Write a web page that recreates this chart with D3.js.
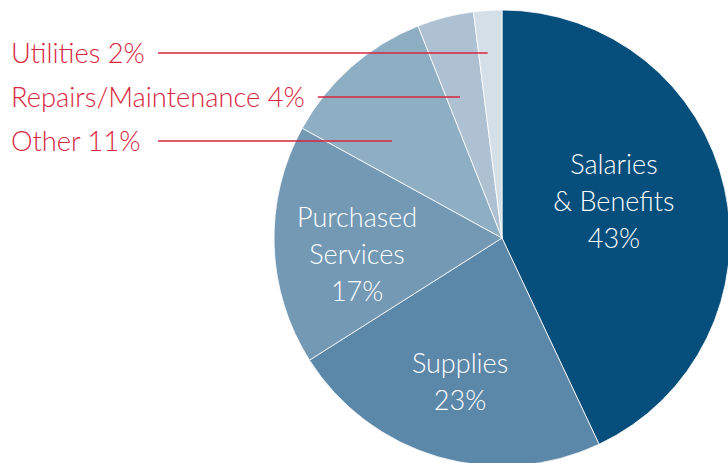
<!DOCTYPE html>
<html>
<head>
<meta charset="utf-8">
<script src="https://cdn.jsdelivr.net/npm/d3@7"></script>
<style>
  body { margin: 0; background: #fff; }
  text { font-family: Lato, "Open Sans", sans-serif; font-weight: 300; }
</style>
</head>
<body>
<div id="chart"></div>
<script>
// Expense categories, clockwise from 12 o'clock
const categories = ["Salaries & Benefits", "Supplies", "Purchased Services", "Other", "Repairs/Maintenance", "Utilities"];
const values = [43, 23, 17, 11, 4, 2];
const colors = ["#064e7b", "#5b87a8", "#7399b5", "#8eaec4", "#adc1d2", "#d4dfe7"];
// labels drawn inside the slices (lines) and outside with leader lines
const insideLabels = [["Salaries", "& Benefits", "43%"], ["Supplies", "23%"], ["Purchased", "Services", "17%"], null, null, null];
const outsideLabels = ["Other 11%", "Repairs/Maintenance 4%", "Utilities 2%"];

const width = 728, height = 463;
const cx = 502, cy = 238, radius = 228;

const svg = d3.select("#chart")
    .append("svg")
    .attr("width", width)
    .attr("height", height);

const g = svg.append("g")
    .attr("transform", `translate(${cx},${cy})`);

const pie = d3.pie().sort(null).value(d => d.value);
const arcs = pie(categories.map((c, i) => ({ name: c, value: values[i], idx: i })));

const arc = d3.arc().innerRadius(0).outerRadius(radius);

// Slices
g.selectAll("path.slice")
    .data(arcs)
    .enter()
    .append("path")
    .attr("class", "slice")
    .attr("d", arc)
    .attr("fill", (d, i) => colors[i])
    .attr("stroke", "#fff")
    .attr("stroke-opacity", 0.8)
    .attr("stroke-width", 1);

// Inside labels: radius factor + vertical nudge
const labelR = [0.503, 0.66, 0.636];
const labelDy = [-11, 0, 12];
arcs.forEach((d, i) => {
    const lines = insideLabels[i];
    if (!lines) return;
    const la = d3.arc().innerRadius(radius * labelR[i]).outerRadius(radius * labelR[i]);
    let [x, y] = la.centroid(d);
    y += labelDy[i];
    const lh = 37;
    const t = g.append("text")
        .attr("text-anchor", "middle")
        .attr("fill", "#fff")
        .style("font-size", "27px");
    lines.forEach((ln, k) => {
        t.append("tspan")
            .attr("x", x)
            .attr("y", y + (k - (lines.length - 1) / 2) * lh + 9)
            .text(ln);
    });
});

// Outside labels with leader lines
const rowY = [141, 97, 53];
const leaderR = [0.73, 0.74, 1.0];
arcs.slice(3).forEach((d, j) => {
    const y = rowY[j];
    const t = svg.append("text")
        .attr("x", 11)
        .attr("y", y + 10)
        .attr("fill", "#d7263d")
        .style("font-size", "27.3px")
        .text(outsideLabels[j]);
    const textEnd = 11 + t.node().getComputedTextLength();
    const la = d3.arc().innerRadius(radius * leaderR[j]).outerRadius(radius * leaderR[j]);
    const [ex] = la.centroid(d);
    svg.append("line")
        .attr("x1", Math.max(textEnd + 13, 158))
        .attr("x2", cx + ex)
        .attr("y1", y)
        .attr("y2", y)
        .attr("stroke", "#d7263d")
        .attr("stroke-width", 1.3);
});
</script>
</body>
</html>
